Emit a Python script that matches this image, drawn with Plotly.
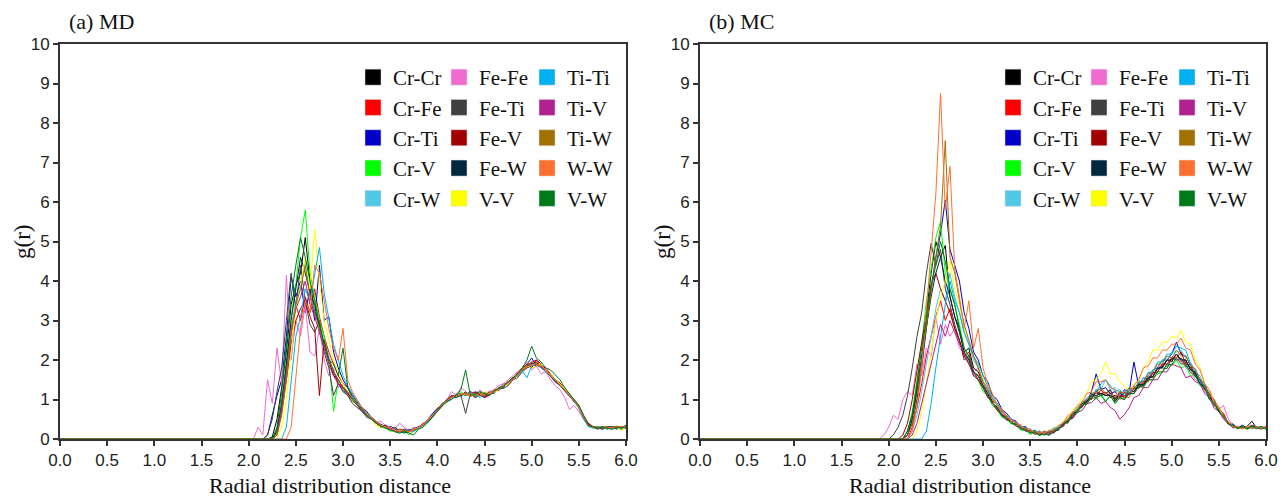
import plotly.graph_objects as go

# ---------------- data ----------------
PAIRS = ["Cr-Cr", "Cr-Fe", "Cr-Ti", "Cr-V", "Cr-W",
         "Fe-Fe", "Fe-Ti", "Fe-V", "Fe-W", "V-V",
         "Ti-Ti", "Ti-V", "Ti-W", "W-W", "V-W"]
COLORS = ["#000000", "#ff0000", "#0000c8", "#00ff00", "#50c8e8",
          "#f06ad0", "#404040", "#a00000", "#002840", "#ffff00",
          "#00b0f0", "#b0208f", "#a07000", "#ff7030", "#007a1a"]

# sampling grid (r); both panels start with a point at r = 0
R_MD = [0.0] + [round(2.0 + 0.05 * i, 2) for i in range(81)]   # 2.00 ... 6.00
R_MC = [0.0] + [round(1.9 + 0.05 * i, 2) for i in range(83)]   # 1.90 ... 6.00

# ---- (a) MD : g(r) at r = 2.00 ... 6.00 ----
MD_CR_CR = [0,0,0,0,0,0.05,0.5,1.3,2.2,3.4,3.9,4.2,5.1,4.0,3.2,2.9,2.4,2.0,1.6,1.5,
            1.3,1.15,1.0,0.85,0.72,0.6,0.52,0.4,0.35,0.3,0.25,0.28,0.2,0.18,0.25,0.2,0.3,0.35,0.5,0.58,
            0.75,0.9,0.95,1.1,1.05,1.15,1.1,1.2,1.05,1.15,1.1,1.2,1.15,1.3,1.35,1.45,1.55,1.6,1.75,1.8,
            1.9,1.85,1.9,1.7,1.6,1.5,1.38,1.25,1.1,0.98,0.8,0.55,0.35,0.3,0.25,0.3,0.28,0.32,0.25,0.3,0.28]
MD_CR_FE = [0,0,0,0,0,0,0.2,0.9,1.8,2.8,3.4,3.0,3.6,3.2,3.8,3.1,2.6,2.2,1.9,1.6,
            1.4,1.3,1.05,0.95,0.8,0.62,0.55,0.45,0.3,0.35,0.3,0.2,0.25,0.22,0.18,0.25,0.3,0.4,0.45,0.62,
            0.7,0.82,1.0,1.0,1.15,1.1,1.2,1.08,1.12,1.2,1.05,1.1,1.25,1.22,1.4,1.38,1.5,1.68,1.7,1.85,
            1.8,2.0,1.82,1.8,1.65,1.5,1.42,1.3,1.12,1.0,0.85,0.6,0.4,0.32,0.28,0.32,0.3,0.25,0.3,0.28,0.32]
MD_CR_TI = [0,0,0,0,0.1,0.6,1.1,1.5,2.6,4.1,3.6,4.0,3.2,3.8,3.0,4.4,3.0,3.1,2.2,1.8,
            1.5,1.3,1.1,0.95,0.8,0.7,0.55,0.45,0.38,0.3,0.32,0.25,0.2,0.22,0.2,0.28,0.3,0.38,0.5,0.65,
            0.78,0.85,1.0,1.05,1.12,1.1,1.15,1.1,1.2,1.12,1.05,1.15,1.22,1.25,1.3,1.45,1.5,1.65,1.75,1.9,
            2.05,1.85,1.9,1.75,1.6,1.48,1.35,1.28,1.12,0.95,0.82,0.55,0.38,0.3,0.3,0.25,0.3,0.28,0.3,0.25,0.3]
MD_CR_V = [0,0,0,0,0,0,0.2,1.0,2.0,3.1,3.9,5.1,5.8,4.2,3.6,3.0,2.6,2.0,0.7,1.5,
           1.2,1.1,0.95,0.9,0.75,0.6,0.5,0.42,0.3,0.28,0.2,0.22,0.15,0.2,0.1,0.2,0.25,0.38,0.42,0.55,
           0.7,0.88,0.92,1.05,1.1,1.2,1.1,1.15,1.1,1.2,1.15,1.1,1.2,1.3,1.32,1.4,1.5,1.62,1.78,1.85,
           1.92,1.9,1.8,1.72,1.62,1.45,1.4,1.25,1.1,1.0,0.82,0.58,0.36,0.28,0.3,0.3,0.25,0.3,0.28,0.25,0.3]
MD_CR_W = [0,0,0,0,0,0,0.1,0.7,1.6,2.7,3.5,3.9,4.5,3.6,3.3,2.9,2.5,2.1,1.7,1.5,
           1.3,1.15,1.05,0.85,0.75,0.62,0.5,0.45,0.35,0.3,0.22,0.28,0.2,0.25,0.22,0.2,0.28,0.32,0.45,0.6,
           0.72,0.82,0.98,1.02,1.15,1.08,1.12,1.18,1.15,1.1,1.12,1.18,1.2,1.25,1.38,1.4,1.55,1.6,1.7,1.82,
           1.88,1.9,1.8,1.75,1.58,1.52,1.38,1.3,1.1,0.95,0.82,0.6,0.35,0.3,0.32,0.28,0.3,0.25,0.28,0.3,0.26]
MD_FE_FE = [0,0,0.3,0.1,1.5,0.9,2.3,1.4,4.15,2.0,3.0,2.6,3.4,2.2,2.1,2.8,2.0,1.6,1.8,1.3,
            1.4,1.1,1.0,0.9,0.7,0.6,0.5,0.4,0.45,0.35,0.3,0.25,0.4,0.3,0.2,0.3,0.25,0.35,0.5,0.62,
            0.68,0.9,0.98,1.2,1.1,1.3,1.2,1.1,1.15,1.25,1.15,1.2,1.25,1.35,1.4,1.5,1.6,1.72,1.8,1.95,
            1.75,1.85,1.65,1.7,1.5,1.35,1.25,1.05,0.75,0.85,0.7,0.5,0.35,0.3,0.3,0.28,0.3,0.25,0.3,0.28,0.3]
MD_FE_TI = [0,0,0,0,0.1,0.5,1.2,1.8,3.0,4.2,3.3,4.4,3.5,2.9,2.7,3.0,2.2,1.8,1.1,1.4,
            1.2,1.1,0.9,0.8,0.7,0.55,0.5,0.4,0.3,0.35,0.25,0.3,0.2,0.25,0.2,0.22,0.3,0.35,0.45,0.55,
            0.7,0.85,1.0,1.1,1.05,1.1,0.65,1.15,1.05,1.1,1.18,1.12,1.2,1.3,1.28,1.35,1.5,1.55,1.7,1.8,
            1.85,1.95,1.82,1.7,1.62,1.45,1.35,1.2,1.08,0.95,0.8,0.55,0.32,0.3,0.28,0.25,0.3,0.28,0.32,0.28,0.35]
MD_FE_V = [0,0,0,0,0,0,0.1,0.7,1.5,2.4,3.0,3.3,3.5,3.1,2.8,1.1,2.5,2.0,1.7,1.4,
           1.3,1.2,1.0,0.85,0.78,0.6,0.55,0.45,0.32,0.3,0.25,0.2,0.22,0.18,0.2,0.22,0.28,0.35,0.45,0.6,
           0.75,0.85,0.98,1.08,1.1,1.15,1.12,1.1,1.18,1.15,1.08,1.12,1.18,1.28,1.35,1.42,1.5,1.65,1.8,1.88,
           1.95,2.0,1.9,1.72,1.6,1.5,1.38,1.25,1.1,0.95,0.8,0.58,0.38,0.3,0.28,0.3,0.28,0.3,0.28,0.3,0.28]
MD_FE_W = [0,0,0,0,0,0,0.2,0.9,1.9,3.0,3.8,4.6,4.2,3.7,3.4,2.8,2.4,2.0,1.7,1.5,
           1.3,1.15,1.0,0.88,0.72,0.62,0.5,0.42,0.35,0.28,0.25,0.22,0.2,0.15,0.2,0.25,0.3,0.36,0.48,0.6,
           0.72,0.88,0.95,1.05,1.12,1.1,1.18,1.1,1.15,1.12,1.1,1.15,1.2,1.25,1.35,1.42,1.55,1.62,1.72,1.85,
           1.9,1.92,1.85,1.72,1.6,1.45,1.35,1.22,1.1,0.98,0.8,0.55,0.35,0.3,0.3,0.28,0.32,0.3,0.28,0.3,0.32]
MD_V_V = [0,0,0,0,0,0,0,0.3,1.0,2.2,3.3,3.9,4.6,3.8,5.3,4.0,3.0,2.5,2.0,1.7,
          1.4,1.2,1.05,0.9,0.72,0.6,0.5,0.35,0.3,0.3,0.25,0.2,0.22,0.2,0.18,0.25,0.28,0.35,0.5,0.58,
          0.72,0.85,0.95,1.05,1.1,1.12,1.15,1.1,1.12,1.1,1.2,1.15,1.18,1.25,1.35,1.4,1.52,1.6,1.75,1.85,
          1.8,1.85,1.9,1.72,1.65,1.5,1.4,1.28,1.12,0.98,0.8,0.58,0.35,0.3,0.28,0.3,0.3,0.28,0.3,0.22,0.3]
MD_TI_TI = [0,0,0,0,0,0,0,0,0.3,1.4,2.6,3.1,3.8,3.5,4.2,4.85,3.7,3.0,2.4,2.0,
            1.6,1.35,1.15,0.95,0.8,0.65,0.52,0.45,0.35,0.3,0.28,0.22,0.2,0.18,0.22,0.2,0.28,0.35,0.45,0.62,
            0.7,0.85,0.95,1.0,1.1,1.15,1.1,1.2,1.12,1.05,1.15,1.1,1.2,1.28,1.32,1.45,1.52,1.6,1.72,1.55,
            1.85,1.9,1.8,1.7,1.6,1.5,1.35,1.25,1.12,0.95,0.78,0.5,0.32,0.28,0.3,0.3,0.25,0.3,0.28,0.3,0.28]
MD_TI_V = [0,0,0,0,0,0,0.1,0.8,1.7,2.7,3.3,3.6,4.0,3.4,3.1,2.7,2.3,1.9,1.6,1.4,
           1.25,1.1,1.0,0.85,0.72,0.6,0.5,0.42,0.35,0.3,0.25,0.2,0.18,0.22,0.2,0.22,0.3,0.38,0.48,0.6,
           0.72,0.85,0.95,1.05,1.1,1.15,1.12,1.2,1.15,1.1,1.12,1.18,1.2,1.28,1.35,1.42,1.5,1.65,1.75,1.82,
           1.9,1.88,1.82,1.75,1.6,1.48,1.35,1.25,1.1,0.95,0.82,0.55,0.35,0.3,0.28,0.3,0.28,0.3,0.28,0.3,0.3]
MD_TI_W = [0,0,0,0,0,0,0.1,0.6,1.5,2.6,3.4,3.8,4.4,3.6,3.2,2.8,2.4,2.0,1.7,1.5,
           1.3,1.2,1.0,0.88,0.75,0.62,0.5,0.4,0.35,0.3,0.28,0.22,0.2,0.2,0.18,0.22,0.3,0.35,0.48,0.6,
           0.75,0.88,0.95,1.05,1.1,1.12,1.15,1.12,1.15,1.1,1.12,1.15,1.22,1.28,1.35,1.45,1.52,1.62,1.75,1.85,
           1.95,1.88,1.85,1.75,1.62,1.5,1.38,1.25,1.12,0.98,0.82,0.58,0.35,0.3,0.28,0.3,0.28,0.3,0.32,0.3,0.3]
MD_W_W = [0,0,0,0,0,0,0,0,0,0.3,1.6,2.8,3.5,3.2,4.4,4.2,3.5,2.8,2.3,2.0,
          2.8,1.5,1.2,1.0,0.8,0.65,0.55,0.45,0.35,0.3,0.28,0.22,0.2,0.22,0.18,0.25,0.3,0.38,0.48,0.6,
          0.72,0.85,0.98,1.05,1.1,1.15,1.12,1.15,1.1,1.15,1.1,1.15,1.2,1.25,1.35,1.42,1.5,1.62,1.75,1.82,
          1.88,1.9,1.85,1.75,1.6,1.5,1.38,1.25,1.1,0.98,0.8,0.55,0.35,0.3,0.3,0.28,0.3,0.28,0.3,0.3,0.32]
MD_V_W = [0,0,0,0,0,0,0.3,1.2,2.4,3.6,4.4,5.1,4.6,4.0,3.5,2.9,2.4,2.0,1.9,1.6,
          2.3,1.3,1.05,0.9,0.72,0.6,0.5,0.4,0.32,0.28,0.22,0.18,0.15,0.2,0.15,0.1,0.25,0.3,0.42,0.55,
          0.7,0.85,0.95,1.0,1.1,1.25,1.75,1.1,1.12,1.2,1.15,1.1,1.2,1.28,1.32,1.45,1.55,1.65,1.8,2.0,
          2.35,2.05,1.95,1.8,1.75,1.62,1.5,1.3,1.15,1.0,0.85,0.6,0.35,0.3,0.28,0.3,0.28,0.25,0.3,0.28,0.3]

# ---- (b) MC : g(r) at r = 1.90 ... 6.00 ----
MC_CR_CR = [0,0,0,0,0,0,0.1,0.5,1.2,2.0,3.2,4.2,5.0,4.6,4.9,3.6,3.1,2.8,2.2,2.3,1.8,1.7,
            1.4,1.2,0.95,0.9,0.7,0.55,0.5,0.38,0.35,0.25,0.22,0.15,0.2,0.12,0.18,0.15,0.28,0.32,0.5,0.52,
            0.75,0.8,1.0,1.0,1.25,1.1,1.15,1.25,0.95,1.1,1.05,1.2,1.2,1.4,1.35,1.55,1.58,1.8,1.8,2.0,
            1.95,2.15,2.0,2.0,1.75,1.7,1.45,1.35,1.05,0.95,0.7,0.62,0.4,0.35,0.28,0.3,0.32,0.45,0.28,0.3,0.28]
MC_CR_FE = [0,0,0,0,0,0,0,0.3,0.8,1.4,2.1,2.6,3.1,3.5,3.0,3.3,2.8,2.5,2.1,2.2,1.7,1.6,
            1.35,1.2,1.0,0.85,0.7,0.55,0.5,0.38,0.3,0.28,0.18,0.2,0.15,0.15,0.12,0.22,0.25,0.42,0.4,0.65,
            0.68,0.9,0.9,1.1,1.05,1.25,1.1,1.15,1.0,1.2,1.05,1.25,1.2,1.35,1.4,1.6,1.55,1.8,1.85,2.0,
            2.0,2.15,1.95,1.95,1.8,1.65,1.4,1.35,1.05,0.95,0.72,0.65,0.38,0.35,0.28,0.3,0.28,0.3,0.28,0.25,0.32]
MC_CR_TI = [0,0,0,0,0,0,0.1,0.4,1.0,1.8,2.8,3.8,4.6,5.2,6.05,4.8,4.4,4.0,3.2,2.8,2.2,2.0,
            1.6,1.45,1.1,1.0,0.75,0.65,0.5,0.45,0.3,0.32,0.2,0.22,0.12,0.2,0.1,0.2,0.22,0.38,0.45,0.68,
            0.72,0.95,0.95,1.2,1.65,1.25,1.3,1.15,1.2,1.05,1.25,1.2,1.95,1.35,1.55,1.5,1.75,1.8,2.0,2.0,
            2.15,2.45,2.15,2.1,1.85,1.75,1.5,1.4,1.1,1.0,0.75,0.62,0.4,0.38,0.28,0.35,0.26,0.32,0.28,0.3,0.26]
MC_CR_V = [0,0,0,0,0,0,0.2,0.7,1.5,2.4,3.5,4.3,5.1,5.5,4.2,3.8,3.4,2.9,2.3,2.0,1.6,1.5,
           1.2,1.1,0.85,0.75,0.55,0.5,0.38,0.35,0.22,0.22,0.12,0.15,0.08,0.15,0.1,0.22,0.25,0.38,0.42,0.6,
           0.65,0.85,0.88,1.05,1.0,1.15,0.95,1.1,0.9,1.05,1.0,1.15,1.15,1.35,1.3,1.5,1.5,1.65,1.68,1.85,
           1.85,2.0,1.8,1.85,1.6,1.6,1.35,1.3,1.0,0.9,0.68,0.58,0.38,0.32,0.26,0.32,0.24,0.3,0.28,0.26,0.28]
MC_CR_W = [0,0,0,0,0,0,0,0.2,0.6,1.2,1.9,2.7,3.3,3.8,3.5,4.2,3.6,3.2,2.7,2.4,2.0,1.8,
           1.5,1.25,1.05,0.85,0.7,0.55,0.5,0.38,0.35,0.22,0.22,0.15,0.18,0.15,0.2,0.22,0.32,0.38,0.55,0.6,
           0.8,0.88,1.05,1.05,1.25,1.25,1.5,1.25,1.3,1.15,1.2,1.18,1.35,1.3,1.55,1.55,1.75,1.78,2.0,2.0,
           2.2,2.2,2.25,2.05,1.95,1.7,1.6,1.3,1.2,0.9,0.78,0.52,0.4,0.3,0.32,0.26,0.32,0.26,0.3,0.3,0.28]
MC_FE_FE = [0,0.1,0.3,0.6,0.5,1.0,1.2,1.1,1.9,1.6,2.3,2.1,3.1,2.4,2.9,2.6,2.8,2.3,2.2,1.9,1.7,1.8,
            1.4,1.2,1.0,0.85,0.75,0.55,0.5,0.4,0.35,0.25,0.25,0.18,0.2,0.12,0.22,0.2,0.32,0.35,0.52,0.58,
            0.75,0.82,1.0,1.02,1.2,1.15,1.15,1.1,1.1,1.05,1.2,1.15,1.32,1.3,1.48,1.5,1.65,1.68,1.9,1.85,
            2.05,2.0,2.0,1.8,1.75,1.5,1.45,1.2,1.1,0.85,0.75,0.85,0.5,0.35,0.3,0.28,0.3,0.28,0.32,0.28,0.3]
MC_FE_TI = [0,0,0,0.1,0.3,0.6,1.1,1.8,2.6,3.2,4.2,4.95,4.4,4.8,3.8,3.4,2.9,2.5,2.0,2.1,1.6,1.5,
            1.3,1.1,0.9,0.8,0.6,0.55,0.4,0.38,0.25,0.25,0.15,0.18,0.1,0.18,0.15,0.25,0.28,0.42,0.48,0.65,
            0.7,0.9,0.92,1.12,1.15,1.15,1.1,1.1,1.05,1.05,1.0,1.18,1.15,1.35,1.35,1.55,1.58,1.8,1.8,1.78,
            2.05,2.0,2.05,1.85,1.82,1.58,1.5,1.25,1.15,0.88,0.78,0.55,0.45,0.3,0.3,0.28,0.3,0.35,0.3,0.26,0.32]
MC_FE_V = [0,0,0,0,0,0.1,0.4,1.0,1.7,2.5,3.2,3.9,4.2,3.8,3.5,3.2,2.8,2.5,2.1,1.9,1.7,1.5,
           1.3,1.05,0.92,0.72,0.62,0.48,0.45,0.32,0.3,0.2,0.22,0.12,0.18,0.1,0.2,0.2,0.32,0.35,0.52,0.55,
           0.75,0.82,1.0,1.02,1.2,1.15,1.18,1.05,1.1,1.05,1.18,1.12,1.3,1.28,1.45,1.45,1.68,1.7,1.9,1.9,
           2.05,2.05,2.2,1.9,1.88,1.6,1.52,1.25,1.15,0.85,0.75,0.55,0.42,0.3,0.32,0.26,0.32,0.28,0.3,0.28,0.3]
MC_FE_W = [0,0,0,0,0,0,0.2,0.6,1.3,2.1,2.9,3.6,4.2,4.6,4.0,3.6,3.1,2.7,2.2,2.0,1.7,1.6,
           1.35,1.15,0.9,0.8,0.62,0.55,0.4,0.38,0.28,0.28,0.18,0.18,0.1,0.18,0.1,0.22,0.25,0.38,0.45,0.65,
           0.7,0.9,0.95,1.12,1.1,1.15,1.1,1.12,1.0,1.15,1.1,1.25,1.2,1.38,1.38,1.55,1.58,1.78,1.82,2.0,
           2.0,2.15,2.0,2.0,1.75,1.68,1.4,1.32,1.05,0.95,0.72,0.6,0.38,0.35,0.28,0.32,0.26,0.32,0.28,0.3,0.28]
MC_V_V = [0,0,0,0,0,0,0,0,0.2,0.7,1.4,2.2,3.0,3.6,4.0,4.5,3.8,3.4,2.8,2.5,2.1,1.9,
          1.5,1.3,1.0,0.9,0.7,0.6,0.42,0.4,0.28,0.28,0.18,0.2,0.12,0.2,0.18,0.28,0.3,0.45,0.52,0.75,
          0.82,1.05,1.15,1.45,1.5,1.65,1.95,1.65,1.65,1.45,1.35,1.2,1.4,1.45,1.8,1.95,2.25,2.25,2.45,2.45,
          2.6,2.55,2.75,2.45,2.4,2.0,1.8,1.4,1.25,0.9,0.78,0.55,0.45,0.3,0.32,0.26,0.32,0.28,0.3,0.28,0.32]
MC_TI_TI = [0,0,0,0,0,0,0,0,0,0,0.2,0.9,1.8,2.6,3.4,4.0,3.5,3.2,2.7,2.4,2.1,1.9,
            1.6,1.3,1.05,0.9,0.72,0.6,0.45,0.42,0.3,0.3,0.2,0.22,0.15,0.18,0.18,0.28,0.28,0.42,0.48,0.68,
            0.72,0.92,0.98,1.15,1.18,1.4,1.5,1.35,1.2,1.25,1.1,1.25,1.25,1.45,1.45,1.68,1.7,1.95,1.95,2.15,
            2.15,2.35,2.3,2.25,1.9,1.75,1.45,1.35,1.0,0.9,0.68,0.58,0.38,0.35,0.28,0.3,0.28,0.3,0.28,0.32,0.26]
MC_TI_V = [0,0,0,0,0,0,0,0.1,0.4,0.9,1.4,1.9,2.4,2.9,2.6,3.0,2.7,2.4,2.2,1.9,1.6,1.6,
           1.3,1.05,0.92,0.75,0.65,0.48,0.45,0.32,0.3,0.2,0.2,0.12,0.15,0.1,0.18,0.15,0.28,0.32,0.48,0.52,
           0.68,0.72,0.9,0.92,1.05,0.9,0.95,0.8,0.72,0.5,0.62,0.8,1.05,1.1,1.3,1.3,1.5,1.5,1.7,1.7,
           1.9,1.85,1.8,1.55,1.6,1.45,1.4,1.15,1.05,0.78,0.7,0.5,0.4,0.28,0.3,0.28,0.3,0.28,0.3,0.28,0.3]
MC_TI_W = [0,0,0,0,0,0,0.1,0.4,1.1,2.0,2.9,3.8,4.6,5.4,7.55,4.6,4.2,3.5,2.9,2.5,2.1,1.8,
           1.45,1.25,1.0,0.85,0.68,0.6,0.45,0.42,0.28,0.28,0.18,0.2,0.12,0.2,0.12,0.22,0.25,0.42,0.48,0.68,
           0.72,0.95,0.98,1.15,1.18,1.3,1.15,1.2,1.05,1.2,1.15,1.3,1.25,1.42,1.45,1.65,1.68,1.9,1.9,2.1,
           2.05,2.25,2.1,2.1,1.85,1.78,1.5,1.4,1.1,1.0,0.75,0.62,0.4,0.35,0.28,0.3,0.28,0.3,0.28,0.3,0.28]
MC_W_W = [0,0,0,0,0,0,0,0.2,0.8,1.8,3.2,4.6,6.2,8.75,5.8,6.9,4.3,3.6,2.8,3.5,2.3,2.8,
          1.8,1.4,1.15,0.85,0.75,0.55,0.5,0.38,0.35,0.25,0.25,0.15,0.18,0.15,0.22,0.22,0.35,0.4,0.6,0.65,
          0.85,0.92,1.15,1.2,1.45,1.45,1.5,1.3,1.25,1.0,1.05,1.05,1.35,1.5,1.8,1.85,2.05,2.05,2.25,2.25,
          2.4,2.4,2.55,2.3,2.25,1.9,1.75,1.4,1.25,0.95,0.82,0.58,0.45,0.3,0.32,0.26,0.32,0.28,0.3,0.28,0.32]
MC_V_W = [0,0,0,0,0,0,0.2,0.6,1.4,2.3,3.0,3.9,4.4,5.0,4.5,3.8,3.4,2.8,2.3,2.1,1.7,1.6,
          1.3,1.1,0.9,0.78,0.58,0.52,0.4,0.38,0.25,0.25,0.15,0.18,0.1,0.12,0.1,0.18,0.25,0.38,0.42,0.62,
          0.68,0.88,0.88,1.08,1.05,1.1,0.95,1.1,0.9,1.05,1.0,1.15,1.15,1.32,1.32,1.5,1.5,1.7,1.7,1.9,
          1.88,2.05,1.9,1.9,1.68,1.62,1.38,1.3,1.0,0.92,0.68,0.58,0.38,0.34,0.26,0.32,0.26,0.32,0.26,0.32,0.24]

MD_SERIES = [MD_CR_CR, MD_CR_FE, MD_CR_TI, MD_CR_V, MD_CR_W,
             MD_FE_FE, MD_FE_TI, MD_FE_V, MD_FE_W, MD_V_V,
             MD_TI_TI, MD_TI_V, MD_TI_W, MD_W_W, MD_V_W]
MC_SERIES = [MC_CR_CR, MC_CR_FE, MC_CR_TI, MC_CR_V, MC_CR_W,
             MC_FE_FE, MC_FE_TI, MC_FE_V, MC_FE_W, MC_V_V,
             MC_TI_TI, MC_TI_V, MC_TI_W, MC_W_W, MC_V_W]

X_TICKS = [0.0, 0.5, 1.0, 1.5, 2.0, 2.5, 3.0, 3.5, 4.0, 4.5, 5.0, 5.5, 6.0]
Y_TICKS = [0, 1, 2, 3, 4, 5, 6, 7, 8, 9, 10]

# ---------------- figure ----------------
W, H = 1282, 499
SERIF = "Liberation Serif, Times New Roman, serif"
SANS = "Liberation Sans, Arial, sans-serif"

fig = go.Figure()

panels = [("x", "y", R_MD, MD_SERIES, ["legend", "legend2", "legend3"]),
          ("x2", "y2", R_MC, MC_SERIES, ["legend4", "legend5", "legend6"])]

for xa, ya, R, series, legs in panels:
    for name, col, vals in zip(PAIRS, COLORS, series):
        fig.add_trace(go.Scatter(x=R, y=[0] + vals, mode="lines", xaxis=xa, yaxis=ya,
                                 line=dict(color=col, width=1), showlegend=False,
                                 hoverinfo="skip"))
    # legend entries (square swatches), 3 columns of 5
    for k, (name, col) in enumerate(zip(PAIRS, COLORS)):
        fig.add_trace(go.Scatter(x=[None], y=[None], mode="markers", xaxis=xa, yaxis=ya,
                                 marker=dict(symbol="square", size=16, color=col,
                                             line=dict(width=0.5, color="#dddddd")),
                                 name=name, legend=legs[k // 5]))

axis_common = dict(showline=True, linecolor="#333333", linewidth=2, mirror=True,
                   ticks="outside", ticklen=5, tickwidth=1.5, tickcolor="#333333",
                   showgrid=False, zeroline=False, automargin=False,
                   tickfont=dict(family=SANS, size=17, color="#222222"))

y_dom = [(H - 439) / H, (H - 44) / H]
fig.update_layout(
    width=W, height=H, margin=dict(l=0, r=0, t=0, b=0, autoexpand=False),
    paper_bgcolor="white", plot_bgcolor="white",
    xaxis=dict(domain=[60 / W, 626 / W], range=[0, 6], tickvals=X_TICKS,
               ticktext=[f"{v:.1f}" for v in X_TICKS], anchor="y", **axis_common),
    yaxis=dict(domain=y_dom, range=[0, 10], tickvals=Y_TICKS, anchor="x", **axis_common),
    xaxis2=dict(domain=[700 / W, 1266 / W], range=[0, 6], tickvals=X_TICKS,
                ticktext=[f"{v:.1f}" for v in X_TICKS], anchor="y2", **axis_common),
    yaxis2=dict(domain=y_dom, range=[0, 10], tickvals=Y_TICKS, anchor="x2", **axis_common),
)

leg_common = dict(orientation="v", xanchor="left", yanchor="top", bgcolor="rgba(0,0,0,0)",
                  font=dict(family=SERIF, size=21, color="#111111"),
                  itemsizing="trace", tracegroupgap=0)
leg_x = [353, 439, 527]
leg_top = 57
for p, off in enumerate([0, 640]):
    for c in range(3):
        key = "legend" if (p == 0 and c == 0) else f"legend{p * 3 + c + 1}"
        fig.update_layout({key: dict(x=(leg_x[c] + off) / W, y=(H - leg_top) / H, **leg_common)})

ann = []
for off, tag in [(0, "(a) MD"), (640, "(b) MC")]:
    ann.append(dict(text=tag, x=(67 + off) / W, y=(H - 21) / H, xref="paper", yref="paper",
                    xanchor="left", yanchor="middle", showarrow=False,
                    font=dict(family=SERIF, size=22, color="#111111")))
    ann.append(dict(text="g(r)", x=(22 + off) / W, y=(H - 242) / H, xref="paper", yref="paper",
                    xanchor="center", yanchor="middle", textangle=-90, showarrow=False,
                    font=dict(family=SERIF, size=23, color="#111111")))
    ann.append(dict(text="Radial distribution distance", x=(330 + off) / W, y=(H - 485) / H,
                    xref="paper", yref="paper", xanchor="center", yanchor="middle",
                    showarrow=False, font=dict(family=SERIF, size=22, color="#111111")))
fig.update_layout(annotations=ann)

fig.write_html("out.html")
